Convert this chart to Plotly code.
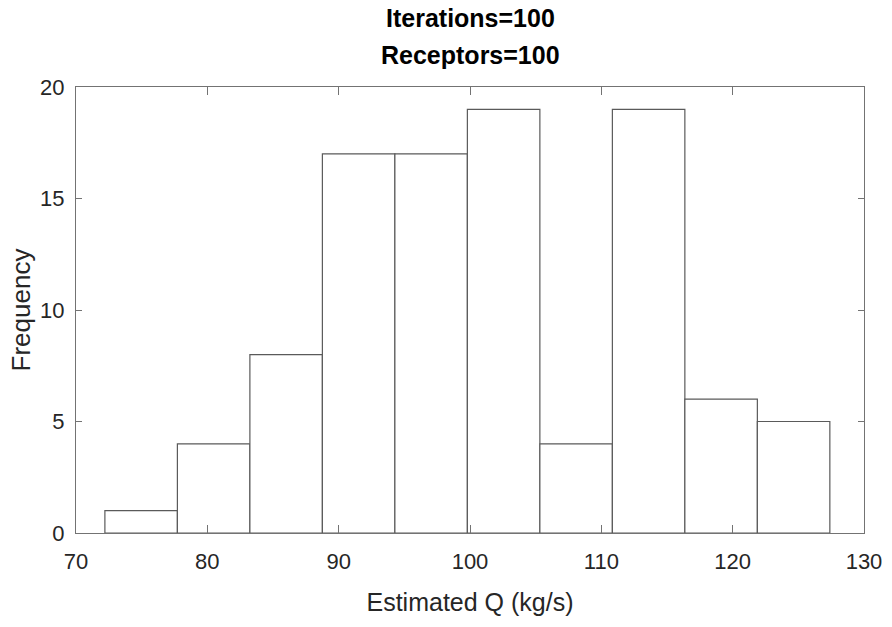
import plotly.graph_objects as go

# Data
bin_edges = [72.2, 77.72, 83.24, 88.76, 94.28, 99.8, 105.32, 110.84, 116.36, 121.88, 127.4]
counts = [1, 4, 8, 17, 17, 19, 4, 19, 6, 5]
x_ticks = [70, 80, 90, 100, 110, 120, 130]
y_ticks = [0, 5, 10, 15, 20]
title_lines = ["Iterations=100", "Receptors=100"]
x_label = "Estimated Q (kg/s)"
y_label = "Frequency"

centers = [(a + b) / 2 for a, b in zip(bin_edges[:-1], bin_edges[1:])]
widths = [b - a for a, b in zip(bin_edges[:-1], bin_edges[1:])]

FONT = "Liberation Sans, Arial, Helvetica, sans-serif"
AX_COL = "#737373"

W, H = 892, 627
ML, MR, MT, MB = 76, 28, 87, 94
plot_h = H - MT - MB

fig = go.Figure(
    go.Bar(
        x=centers,
        y=counts,
        width=widths,
        marker=dict(color="white", line=dict(color="#5a5a5a", width=1.2)),
        hoverinfo="x+y",
    )
)

title_pix_y = [18, 55]
annotations = [
    dict(
        text="<b>" + t + "</b>",
        x=0.5,
        xref="paper",
        xanchor="center",
        y=(H - MB - py) / plot_h,
        yref="paper",
        yanchor="middle",
        showarrow=False,
        font=dict(family=FONT, size=25, color="black"),
    )
    for t, py in zip(title_lines, title_pix_y)
]

fig.update_layout(
    width=W,
    height=H,
    margin=dict(l=ML, r=MR, t=MT, b=MB, autoexpand=False),
    paper_bgcolor="white",
    plot_bgcolor="white",
    showlegend=False,
    font=dict(family=FONT, color="#262626"),
    annotations=annotations,
)

fig.update_xaxes(
    range=[x_ticks[0], x_ticks[-1]],
    tickvals=x_ticks,
    ticks="inside",
    ticklen=8,
    tickcolor=AX_COL,
    showline=True,
    linecolor=AX_COL,
    linewidth=1.2,
    mirror="ticks",
    showgrid=False,
    zeroline=False,
    automargin=False,
    tickfont=dict(size=22, color="#262626"),
    ticklabelstandoff=8,
    title=dict(text=x_label, font=dict(size=25, color="#262626"), standoff=20),
)
fig.update_yaxes(
    range=[y_ticks[0], y_ticks[-1]],
    tickvals=y_ticks,
    ticks="inside",
    ticklen=6,
    tickcolor=AX_COL,
    showline=True,
    linecolor=AX_COL,
    linewidth=1.2,
    mirror="ticks",
    showgrid=False,
    zeroline=False,
    automargin=False,
    tickfont=dict(size=22, color="#262626"),
    ticklabelstandoff=6,
    title=dict(text=y_label, font=dict(size=26, color="#262626"), standoff=1),
)

fig.write_html("out.html", config={"displayModeBar": False})

# remove the default 8px page margin so the figure fills the window exactly
with open("out.html", "r", encoding="utf-8") as f:
    html = f.read()
html = html.replace("<body>", '<body style="margin:0;padding:0;">', 1)
with open("out.html", "w", encoding="utf-8") as f:
    f.write(html)
